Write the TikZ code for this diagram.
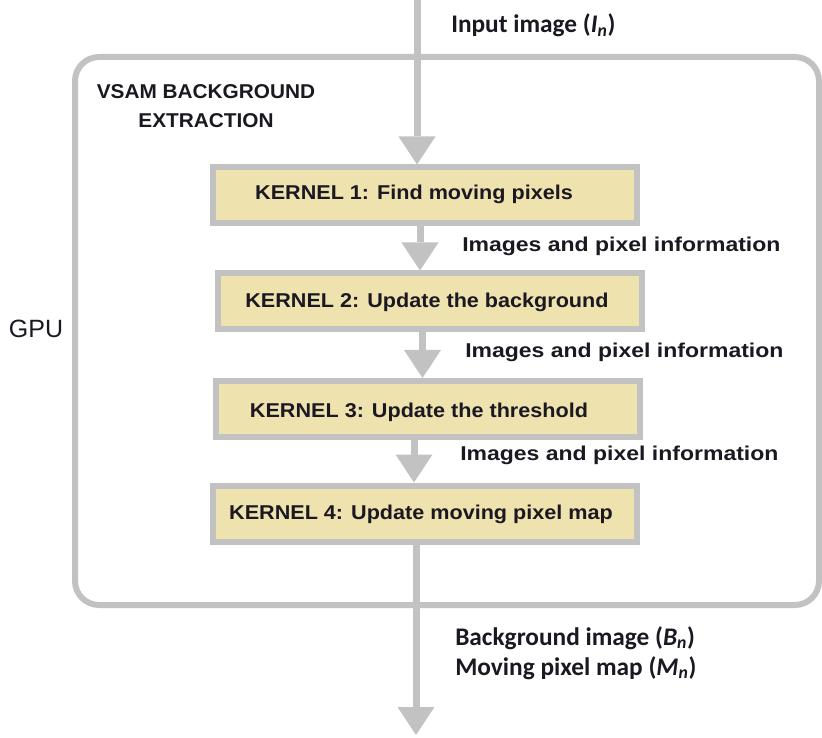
\documentclass[tikz,border=0pt]{standalone}
\usepackage{fontspec}
\usepackage{graphicx}
\setmainfont{Liberation Sans}
\newfontfamily\calfont{Carlito}
\usetikzlibrary{arrows.meta}

\definecolor{linegray}{RGB}{194,194,194}
\definecolor{kernelfill}{RGB}{238,226,175}
\definecolor{inkdark}{RGB}{28,24,34}

% wide bold sans text used in the kernel boxes and side labels
\newcommand\kfont[2]{\scalebox{#1}[1]{\fontsize{15pt}{18pt}\selectfont\bfseries #2}}

\begin{document}
\begin{tikzpicture}[x=0.75pt,y=-0.75pt,
  gpubox/.style={draw=linegray, line width=4.5pt, rounded corners=18pt,
    minimum width=744*0.75pt, minimum height=548*0.75pt, inner sep=0pt},
  kbox/.style={draw=linegray, line width=4.5pt, fill=kernelfill,
    minimum width=424*0.75pt, minimum height=56*0.75pt, inner sep=0pt},
  ktext/.style={anchor=base, inner sep=0pt, text=inkdark},
  sidelabel/.style={anchor=base west, inner sep=0pt, text=inkdark},
  iolabel/.style={anchor=base west, inner sep=0pt, text=inkdark,
    font=\calfont\fontsize{19pt}{22.5pt}\selectfont\bfseries},
  flow/.style={draw=linegray, line width=5.25pt,
    -{Triangle[width=27.75pt,length=21pt,line width=0pt]}}
]
\useasboundingbox (0,0) rectangle (822,738);

% GPU container
\node[gpubox] (gpu) at (447,331) {};
\node[anchor=base, inner sep=0pt, text=inkdark,
  font=\fontsize{18.75pt}{22pt}\selectfont] (gpulabel) at (36,338) {GPU};
\node[anchor=base, inner sep=0pt, text=inkdark, align=center]
  (vsam) at (206,128)
  {\kfont{1.04}{VSAM BACKGROUND}\\[9.75pt]\kfont{1.04}{EXTRACTION}};

% kernel boxes
\node[kbox] (k1) at (425,195.5) {};
\node[kbox] (k2) at (429.5,301.5) {};
\node[kbox] (k3) at (428,409) {};
\node[kbox] (k4) at (425,513.5) {};

\node[ktext] (k1t) at (414,200) {\kfont{1.08}{KERNEL 1: Find moving pixels}};
\node[ktext] (k2t) at (427,307) {\kfont{1.08}{KERNEL 2: Update the background}};
\node[ktext] (k3t) at (419,417) {\kfont{1.08}{KERNEL 3: Update the threshold}};
\node[ktext] (k4t) at (421,519) {\kfont{1.08}{KERNEL 4: Update moving pixel map}};

% data flow
\coordinate (in) at (417,0);
\coordinate (out) at (416,735);
\draw[flow] (in) -- (in |- k1.north);
\draw[flow] ([xshift=-5*0.75pt]k1.south) -- ([xshift=-5*0.75pt]k1.south |- k2.north);
\draw[flow] ([xshift=-7*0.75pt]k2.south) -- ([xshift=-7*0.75pt]k2.south |- k3.north);
\draw[flow] ([xshift=-14*0.75pt]k3.south) -- ([xshift=-14*0.75pt]k3.south |- k4.north);
\draw[flow] (out |- k4.south) -- (out);

% labels beside the arrows
\node[sidelabel] (l1) at (462,252) {\kfont{1.15}{Images and pixel information}};
\node[sidelabel] (l2) at (465,358) {\kfont{1.15}{Images and pixel information}};
\node[sidelabel] (l3) at (460,460) {\kfont{1.15}{Images and pixel information}};

\node[iolabel] (inlabel) at (451,33) {Input image (\textit{I}\textsubscript{\textit{n}})};
\node[iolabel] (bglabel) at (455,645) {Background image (\textit{B}\textsubscript{\textit{n}})};
\node[iolabel] (mplabel) at (455,675) {Moving pixel map (\textit{M}\textsubscript{\textit{n}})};
\end{tikzpicture}
\end{document}
